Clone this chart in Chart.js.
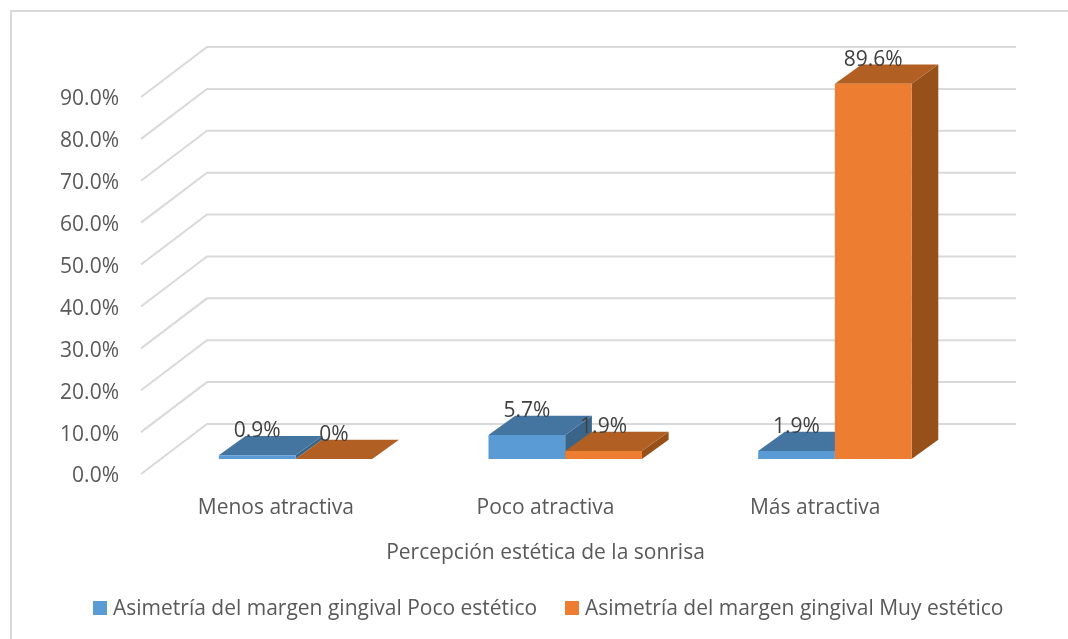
<!DOCTYPE html>
<html>
<head>
<meta charset="utf-8">
<title>Percepción estética de la sonrisa</title>
<script src="https://cdn.jsdelivr.net/npm/chart.js@4/dist/chart.umd.min.js"></script>
<style>
    html, body { margin: 0; padding: 0; background: #fff; overflow: hidden; }
    canvas { display: block; }
</style>
</head>
<body>
<canvas id="chart" width="1068" height="639"></canvas>
<script>
// Values
const categories = ['Menos atractiva', 'Poco atractiva', 'Más atractiva'];
const pocoEstetico = [0.9, 5.7, 1.9];
const muyEstetico = [0, 1.9, 89.6];
const pocoLabels = ['0.9%', '5.7%', '1.9%'];
const muyLabels = ['0%', '1.9%', '89.6%'];
const seriesNames = ['Asimetría del margen gingival Poco estético', 'Asimetría del margen gingival Muy estético'];
const axisTitle = 'Percepción estética de la sonrisa';

const FONT = '"Open Sans", sans-serif';
const FONT_SIZE = 21;
const TEXT_COLOR = '#595959';
const GRID_COLOR = '#d9d9d9';

// Fake 3D: how far the back wall and the bars sit behind the front plane
const WALL = { dx: 66, dy: -50 };
const BAR_SHIFT = { dx: 19.7, dy: -15 };
const BAR_DEPTH = { dx: 26.7, dy: -19.3 };
const shades = [
    { top: '#4475a1', side: '#3a6589' },
    { top: '#b15f22', side: '#98501b' }
];

function fillPoly(ctx, color, pts) {
    ctx.fillStyle = color;
    ctx.beginPath();
    pts.forEach((p, i) => i ? ctx.lineTo(p[0], p[1]) : ctx.moveTo(p[0], p[1]));
    ctx.closePath();
    ctx.fill();
}

const frame3d = {
    id: 'frame3d',
    beforeDraw(chart) {
        // Only the top and left edges of the frame are in the picture
        const ctx = chart.ctx;
        ctx.save();
        ctx.strokeStyle = GRID_COLOR;
        ctx.lineWidth = 2;
        ctx.beginPath();
        ctx.moveTo(11, 639);
        ctx.lineTo(11, 11);
        ctx.lineTo(1068, 11);
        ctx.stroke();
        ctx.restore();
    },
    beforeDatasetsDraw(chart) {
        // Grid lines run along the side wall and then the back wall
        const ctx = chart.ctx;
        const yScale = chart.scales.y;
        const area = chart.chartArea;
        ctx.save();
        ctx.strokeStyle = GRID_COLOR;
        ctx.lineWidth = 2;
        yScale.ticks.forEach(t => {
            const y = yScale.getPixelForValue(t.value);
            ctx.beginPath();
            ctx.moveTo(area.left, y);
            ctx.lineTo(area.left + WALL.dx, y + WALL.dy);
            ctx.lineTo(area.right + WALL.dx, y + WALL.dy);
            ctx.stroke();
        });

        // Tick labels sit a little under their grid line
        ctx.font = FONT_SIZE + 'px ' + FONT;
        ctx.fillStyle = TEXT_COLOR;
        ctx.textAlign = 'right';
        ctx.textBaseline = 'middle';
        yScale.ticks.forEach(t => {
            ctx.fillText(t.value.toFixed(1) + '%', 119, yScale.getPixelForValue(t.value) + 2.5);
        });
        ctx.restore();
    },
    // Chart.js paints the first dataset last, here the left bar has to go first
    beforeDatasetDraw() {
        return false;
    },
    afterDatasetsDraw(chart) {
        const ctx = chart.ctx;
        [0, 1].forEach(i => {
            const shade = shades[i];
            ctx.save();
            ctx.translate(BAR_SHIFT.dx, BAR_SHIFT.dy);
            chart.getDatasetMeta(i).data.forEach(bar => {
                const l = bar.x - bar.width / 2;
                const r = bar.x + bar.width / 2;
                const d = BAR_DEPTH;
                fillPoly(ctx, shade.side, [[r, bar.y], [r + d.dx, bar.y + d.dy], [r + d.dx, bar.base + d.dy], [r, bar.base]]);
                fillPoly(ctx, shade.top, [[l, bar.y], [l + d.dx, bar.y + d.dy], [r + d.dx, bar.y + d.dy], [r, bar.y]]);
                bar.draw(ctx);
            });
            ctx.restore();
        });

        ctx.save();
        ctx.font = FONT_SIZE + 'px ' + FONT;
        ctx.fillStyle = '#404040';
        ctx.textAlign = 'center';
        ctx.textBaseline = 'middle';
        [pocoLabels, muyLabels].forEach((labels, i) => {
            chart.getDatasetMeta(i).data.forEach((bar, j) => {
                ctx.fillText(labels[j], bar.x + BAR_SHIFT.dx, bar.y + BAR_SHIFT.dy - 24);
            });
        });

        // Legend
        ctx.textAlign = 'left';
        const legendX = [93, 565];
        chart.data.datasets.forEach((ds, i) => {
            ctx.fillStyle = ds.backgroundColor;
            ctx.fillRect(legendX[i], 601, 14, 14);
            ctx.fillStyle = TEXT_COLOR;
            ctx.fillText(ds.label, legendX[i] + 20, 609);
        });
        ctx.restore();
    }
};

new Chart(document.getElementById('chart'), {
    type: 'bar',
    data: {
        labels: categories,
        datasets: [
            { label: seriesNames[0], data: pocoEstetico, backgroundColor: '#5b9bd5' },
            { label: seriesNames[1], data: muyEstetico, backgroundColor: '#ed7d31' }
        ]
    },
    options: {
        responsive: false,
        animation: false,
        categoryPercentage: 0.569,
        barPercentage: 1,
        layout: { padding: { top: 97, right: 118, left: 0, bottom: 0 } },
        plugins: { legend: { display: false }, tooltip: { enabled: false } },
        scales: {
            x: {
                grid: { display: false },
                border: { display: false },
                ticks: { color: TEXT_COLOR, font: { family: FONT, size: FONT_SIZE }, padding: 13, maxRotation: 0 },
                title: { display: true, text: axisTitle, color: TEXT_COLOR, font: { family: FONT, size: FONT_SIZE }, padding: { top: 16, bottom: 73 } },
                afterFit(scale) { scale.height = 165; }
            },
            y: {
                min: 0,
                max: 90,
                grid: { display: false, drawTicks: false },
                border: { display: false },
                ticks: { stepSize: 10, display: false },
                afterFit(scale) { scale.width = 141; }
            }
        }
    },
    plugins: [frame3d]
});
</script>
</body>
</html>
